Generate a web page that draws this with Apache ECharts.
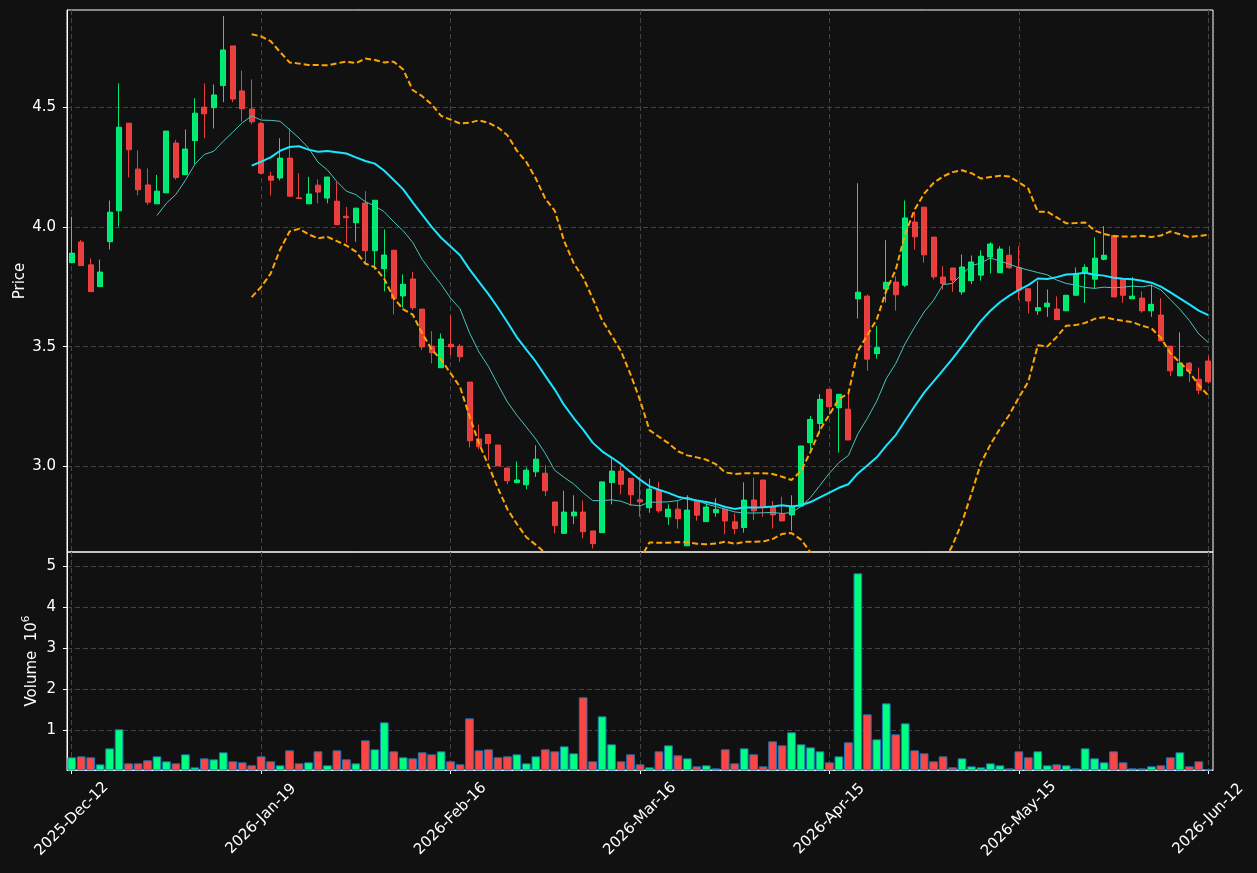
<!DOCTYPE html>
<html>
<head>
<meta charset="utf-8">
<title>Price / Volume</title>
<script src="https://cdn.jsdelivr.net/npm/echarts@6/dist/echarts.min.js"></script>
<style>
  html, body { margin: 0; padding: 0; background: #111111; }
  #chart { width: 1257px; height: 873px; }
</style>
</head>
<body>
<div id="chart"></div>
<script>
// 交易日: 从首日起的工作日, 去掉休市日
const firstDay = '2025-12-12'
const sessionCount = 121
const skippedDays = ['2025-12-24', '2025-12-25', '2025-12-26', '2025-12-31', '2026-01-01', '2026-01-02',
  '2026-04-03', '2026-04-06', '2026-05-01', '2026-05-04']
const monthNames = ['Jan', 'Feb', 'Mar', 'Apr', 'May', 'Jun', 'Jul', 'Aug', 'Sep', 'Oct', 'Nov', 'Dec']

const opens = [
  3.851, 3.937, 3.842, 3.751, 3.939, 4.068, 4.434, 4.242, 4.176, 4.097,
  4.143, 4.351, 4.219, 4.361, 4.501, 4.499, 4.591, 4.757, 4.569, 4.493,
  4.433, 4.213, 4.205, 4.288, 4.122, 4.097, 4.175, 4.121, 4.108, 4.045,
  4.018, 4.100, 3.901, 3.826, 3.903, 3.712, 3.783, 3.657, 3.502, 3.412,
  3.510, 3.502, 3.352, 3.114, 3.133, 3.089, 2.993, 2.932, 2.923, 2.977,
  2.971, 2.851, 2.720, 2.793, 2.809, 2.730, 2.723, 2.932, 2.980, 2.950,
  2.860, 2.827, 2.900, 2.789, 2.821, 2.668, 2.858, 2.769, 2.806, 2.820,
  2.768, 2.744, 2.859, 2.943, 2.831, 2.800, 2.797, 2.834, 3.099, 3.179,
  3.322, 3.245, 3.239, 3.700, 3.711, 3.471, 3.741, 3.770, 3.757, 4.021,
  4.083, 3.958, 3.791, 3.829, 3.729, 3.776, 3.799, 3.875, 3.809, 3.882,
  3.831, 3.742, 3.650, 3.667, 3.657, 3.650, 3.715, 3.809, 3.782, 3.865,
  3.965, 3.780, 3.700, 3.703, 3.650, 3.632, 3.502, 3.378, 3.431, 3.364,
  3.440
]
const closes = [
  3.891, 3.839, 3.730, 3.812, 4.062, 4.417, 4.323, 4.156, 4.104, 4.150,
  4.401, 4.207, 4.326, 4.476, 4.473, 4.552, 4.740, 4.535, 4.494, 4.440,
  4.225, 4.196, 4.288, 4.129, 4.119, 4.138, 4.146, 4.209, 4.010, 4.039,
  4.079, 3.901, 4.112, 3.883, 3.701, 3.761, 3.663, 3.499, 3.475, 3.532,
  3.499, 3.458, 3.107, 3.082, 3.095, 3.002, 2.940, 2.943, 2.984, 3.030,
  2.898, 2.752, 2.809, 2.809, 2.727, 2.677, 2.935, 2.980, 2.925, 2.881,
  2.852, 2.905, 2.814, 2.821, 2.781, 2.817, 2.796, 2.830, 2.820, 2.772,
  2.740, 2.859, 2.814, 2.828, 2.797, 2.772, 2.834, 3.085, 3.196, 3.280,
  3.249, 3.301, 3.110, 3.728, 3.448, 3.496, 3.769, 3.717, 4.038, 3.959,
  3.884, 3.792, 3.764, 3.778, 3.833, 3.854, 3.878, 3.929, 3.908, 3.830,
  3.736, 3.691, 3.663, 3.682, 3.613, 3.715, 3.806, 3.831, 3.870, 3.882,
  3.708, 3.715, 3.711, 3.650, 3.677, 3.524, 3.399, 3.431, 3.398, 3.318,
  3.353
]
const lows = [
  3.849, 3.839, 3.730, 3.751, 3.906, 4.002, 4.208, 4.132, 4.093, 4.097,
  4.143, 4.198, 4.219, 4.263, 4.371, 4.412, 4.522, 4.522, 4.441, 4.430,
  4.222, 4.131, 4.195, 4.129, 4.119, 4.097, 4.099, 4.099, 4.010, 3.934,
  3.938, 3.841, 3.821, 3.731, 3.635, 3.663, 3.653, 3.486, 3.430, 3.412,
  3.465, 3.437, 3.079, 3.071, 3.026, 3.002, 2.925, 2.929, 2.904, 2.956,
  2.876, 2.720, 2.720, 2.758, 2.699, 2.657, 2.723, 2.841, 2.883, 2.834,
  2.789, 2.806, 2.806, 2.756, 2.740, 2.668, 2.773, 2.769, 2.789, 2.716,
  2.716, 2.723, 2.775, 2.789, 2.740, 2.772, 2.731, 2.834, 3.057, 3.137,
  3.214, 3.058, 3.110, 3.618, 3.399, 3.450, 3.685, 3.651, 3.750, 3.906,
  3.851, 3.781, 3.739, 3.729, 3.717, 3.762, 3.776, 3.806, 3.809, 3.824,
  3.694, 3.639, 3.633, 3.625, 3.613, 3.650, 3.715, 3.683, 3.742, 3.861,
  3.708, 3.683, 3.700, 3.642, 3.625, 3.524, 3.377, 3.378, 3.352, 3.301,
  3.346
]
const highs = [
  4.043, 3.946, 3.869, 3.864, 4.111, 4.600, 4.434, 4.320, 4.245, 4.218,
  4.401, 4.364, 4.408, 4.538, 4.600, 4.596, 4.882, 4.757, 4.654, 4.617,
  4.440, 4.231, 4.371, 4.412, 4.225, 4.210, 4.199, 4.209, 4.189, 4.084,
  4.079, 4.150, 4.112, 3.990, 3.903, 3.802, 3.813, 3.657, 3.565, 3.555,
  3.631, 3.510, 3.352, 3.175, 3.133, 3.089, 2.993, 3.020, 2.995, 3.088,
  3.004, 2.851, 2.898, 2.879, 2.858, 2.730, 2.935, 3.033, 3.001, 2.950,
  2.956, 2.948, 2.935, 2.841, 2.855, 2.879, 2.858, 2.845, 2.866, 2.824,
  2.803, 2.933, 2.953, 2.943, 2.855, 2.873, 2.879, 3.085, 3.210, 3.302,
  3.322, 3.301, 3.305, 4.183, 3.718, 3.587, 3.945, 3.794, 4.111, 4.064,
  4.083, 3.958, 3.836, 3.829, 3.885, 3.881, 3.903, 3.937, 3.920, 3.920,
  3.920, 3.742, 3.775, 3.739, 3.710, 3.715, 3.831, 3.844, 3.957, 4.004,
  3.965, 3.780, 3.791, 3.731, 3.760, 3.703, 3.502, 3.560, 3.436, 3.413,
  3.461
]
// 成交量, 单位 10^6
const volumes = [
  0.341, 0.365, 0.341, 0.170, 0.560, 1.024, 0.194, 0.194, 0.268, 0.365,
  0.243, 0.194, 0.414, 0.097, 0.316, 0.292, 0.463, 0.243, 0.219, 0.146,
  0.365, 0.243, 0.146, 0.511, 0.194, 0.219, 0.487, 0.146, 0.511, 0.292,
  0.194, 0.755, 0.536, 1.194, 0.487, 0.341, 0.316, 0.463, 0.414, 0.487,
  0.243, 0.170, 1.292, 0.511, 0.536, 0.341, 0.365, 0.414, 0.194, 0.365,
  0.536, 0.487, 0.609, 0.438, 1.804, 0.243, 1.341, 0.658, 0.243, 0.414,
  0.170, 0.097, 0.487, 0.633, 0.390, 0.316, 0.121, 0.146, 0.072, 0.536,
  0.194, 0.560, 0.414, 0.121, 0.731, 0.633, 0.951, 0.658, 0.584, 0.487,
  0.219, 0.365, 0.707, 4.828, 1.389, 0.780, 1.658, 0.902, 1.170, 0.511,
  0.438, 0.243, 0.365, 0.097, 0.316, 0.121, 0.097, 0.194, 0.146, 0.072,
  0.487, 0.341, 0.487, 0.146, 0.170, 0.146, 0.072, 0.560, 0.316, 0.219,
  0.487, 0.219, 0.072, 0.072, 0.121, 0.146, 0.341, 0.463, 0.121, 0.243,
  0.048
]

const priceTicks = [3.0, 3.5, 4.0, 4.5]
const volumeTicks = [1, 2, 3, 4, 5]
const labelEvery = 20

const upColor = '#00ff7f'
const downColor = '#ff4444'
const textColor = '#ffffff'
const gridColor = '#444444'
const font = 'DejaVu Sans'
const fontSize = 15

function tradingDays () {
  let days = []
  let d = new Date(firstDay + 'T00:00:00Z')
  while (days.length < sessionCount) {
    let iso = d.toISOString().slice(0, 10)
    let wd = d.getUTCDay()
    if (wd !== 0 && wd !== 6 && skippedDays.indexOf(iso) < 0) days.push(iso)
    d.setUTCDate(d.getUTCDate() + 1)
  }
  return days
}

function formatDay (iso) {
  let p = iso.split('-')
  return p[0] + '-' + monthNames[+p[1] - 1] + '-' + p[2]
}

function movingAverage (values, n) {
  return values.map((v, i) => {
    if (i < n - 1) return '-'
    let s = 0
    for (let k = i - n + 1; k <= i; k++) s += values[k]
    return s / n
  })
}

// 布林带: 20 日均线 ± 2 倍标准差
function bollinger (values, n, k) {
  let mid = movingAverage(values, n)
  let upper = []
  let lower = []
  values.forEach((v, i) => {
    if (i < n - 1) { upper.push('-'); lower.push('-'); return }
    let s = 0
    for (let j = i - n + 1; j <= i; j++) s += (values[j] - mid[i]) ** 2
    let sd = Math.sqrt(s / n)
    upper.push(mid[i] + k * sd)
    lower.push(mid[i] - k * sd)
  })
  return { upper, lower }
}

const days = tradingDays()
const candles = opens.map((o, i) => [o, closes[i], lows[i], highs[i]])
const ma10 = movingAverage(closes, 10)
const ma20 = movingAverage(closes, 20)
const bands = bollinger(closes, 20, 2)
const volumeBars = volumes.map((v, i) => ({
  value: v,
  itemStyle: { color: closes[i] >= opens[i] ? upColor : downColor }
}))

const showEvery = (idx) => idx % labelEvery === 0
const dashed = { color: gridColor, type: [5, 3], width: 1 }

let chart = echarts.init(document.getElementById('chart'))
chart.setOption({
  backgroundColor: '#111111',
  animation: false,
  grid: [
    { left: 67, right: 44, top: 10, height: 542, show: true, borderColor: '#ffffff', borderWidth: 1, outerBoundsMode: 'none' },
    { left: 67, right: 44, top: 552, height: 218, show: true, borderColor: '#ffffff', borderWidth: 1, outerBoundsMode: 'none' }
  ],
  xAxis: [
    {
      gridIndex: 0,
      type: 'category',
      data: days,
      axisLine: { show: false },
      axisTick: { show: false },
      axisLabel: { show: false },
      splitLine: { show: true, interval: showEvery, alignWithLabel: true, lineStyle: dashed }
    },
    {
      gridIndex: 1,
      type: 'category',
      data: days,
      axisLine: { show: true, lineStyle: { color: '#ffffff' } },
      axisTick: { show: true, interval: showEvery, alignWithLabel: true, length: 4, lineStyle: { color: '#ffffff' } },
      axisLabel: {
        interval: showEvery,
        rotate: 45,
        align: 'center',
        verticalAlign: 'middle',
        margin: 49,
        color: textColor,
        fontSize: fontSize,
        fontFamily: font,
        formatter: formatDay
      },
      splitLine: { show: true, interval: showEvery, alignWithLabel: true, lineStyle: dashed }
    }
  ],
  yAxis: [
    {
      gridIndex: 0,
      type: 'value',
      min: 2.642,
      max: 4.907,
      axisLine: { show: true, lineStyle: { color: '#ffffff' } },
      axisTick: { show: true, customValues: priceTicks, length: 4, lineStyle: { color: '#ffffff' } },
      axisLabel: {
        customValues: priceTicks,
        margin: 11,
        color: textColor,
        fontSize: fontSize,
        fontFamily: font,
        formatter: (v) => v.toFixed(1)
      },
      splitLine: { show: true, lineStyle: dashed },
      name: 'Price',
      nameLocation: 'middle',
      nameRotate: 90,
      nameGap: 39,
      nameMoveOverlap: false,
      nameTextStyle: { color: textColor, fontSize: fontSize, fontFamily: font }
    },
    {
      gridIndex: 1,
      type: 'value',
      min: 0.032,
      max: 5.349,
      axisLine: { show: true, lineStyle: { color: '#ffffff' } },
      axisTick: { show: true, customValues: volumeTicks, length: 4, lineStyle: { color: '#ffffff' } },
      axisLabel: {
        customValues: volumeTicks,
        margin: 11,
        color: textColor,
        fontSize: fontSize,
        fontFamily: font,
        formatter: (v) => String(v)
      },
      splitLine: { show: true, lineStyle: dashed },
      name: '{v|Volume  10}{s|6}',
      nameLocation: 'middle',
      nameRotate: 90,
      nameGap: 27,
      nameMoveOverlap: false,
      nameTextStyle: {
        color: textColor,
        fontFamily: font,
        rich: {
          v: { color: textColor, fontSize: fontSize, fontFamily: font, lineHeight: 19, verticalAlign: 'bottom' },
          s: { color: textColor, fontSize: 10.5, fontFamily: font, lineHeight: 19, verticalAlign: 'top' }
        }
      }
    }
  ],
  series: [
    {
      name: 'candles',
      type: 'candlestick',
      xAxisIndex: 0,
      yAxisIndex: 0,
      data: candles,
      barWidth: '58%',
      itemStyle: {
        color: 'rgba(0,255,127,0.9)',
        color0: 'rgba(255,68,68,0.9)',
        borderColor: 'rgba(0,255,127,0.9)',
        borderColor0: 'rgba(255,68,68,0.9)',
        borderWidth: 1
      }
    },
    {
      name: 'MA10',
      type: 'line',
      xAxisIndex: 0,
      yAxisIndex: 0,
      data: ma10,
      showSymbol: false,
      clip: true,
      lineStyle: { color: '#45c6bd', width: 1 },
      z: 3
    },
    {
      name: 'MA20',
      type: 'line',
      xAxisIndex: 0,
      yAxisIndex: 0,
      data: ma20,
      showSymbol: false,
      clip: true,
      lineStyle: { color: '#1ae6ff', width: 2 },
      z: 3
    },
    {
      name: 'upper',
      type: 'line',
      xAxisIndex: 0,
      yAxisIndex: 0,
      data: bands.upper,
      showSymbol: false,
      clip: true,
      lineStyle: { color: '#ffa500', width: 2, type: [6, 3] },
      z: 3
    },
    {
      name: 'lower',
      type: 'line',
      xAxisIndex: 0,
      yAxisIndex: 0,
      data: bands.lower,
      showSymbol: false,
      clip: true,
      lineStyle: { color: '#ffa500', width: 2, type: [6, 3] },
      z: 3
    },
    {
      name: 'volume',
      type: 'bar',
      xAxisIndex: 1,
      yAxisIndex: 1,
      data: volumeBars,
      barWidth: '92%',
      itemStyle: { borderColor: '#1f77b4', borderWidth: 1 }
    }
  ]
})
</script>
</body>
</html>
